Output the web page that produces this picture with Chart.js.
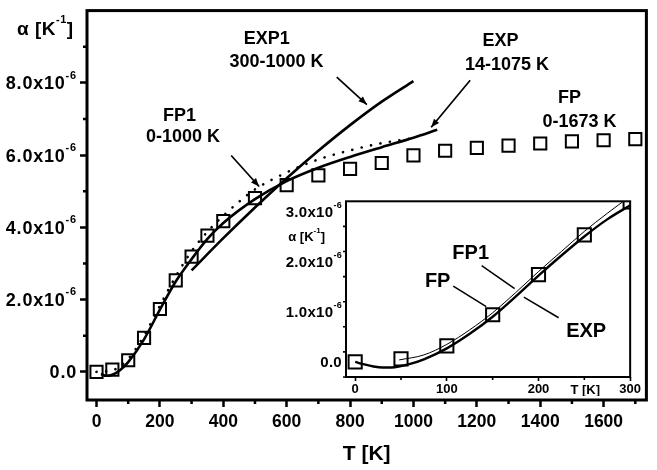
<!DOCTYPE html>
<html>
<head>
<meta charset="utf-8">
<script src="https://cdn.jsdelivr.net/npm/chart.js@4.4.1/dist/chart.umd.min.js"></script>
<style>
  html, body { margin: 0; padding: 0; background: #fff; }
  #wrap { position: relative; width: 657px; height: 470px; }
  #main { position: absolute; left: 0; top: 0; }
  #inset { position: absolute; left: 280px; top: 190px; }
</style>
</head>
<body>
<div id="wrap">
  <canvas id="main" width="657" height="470"></canvas>
  <canvas id="inset" width="362" height="206"></canvas>
</div>
<script>
// alpha values are in units of 1e-6 K^-1, temperatures in K

// FP 0-1673 K (squares)
const fpT     = [0, 50, 100, 150, 200, 250, 300, 350, 400, 500, 600, 700, 800, 900, 1000, 1100, 1200, 1300, 1400, 1500, 1600, 1700];
const fpAlpha = [0.0, 0.06, 0.32, 0.94, 1.74, 2.53, 3.19, 3.77, 4.17, 4.81, 5.17, 5.44, 5.62, 5.78, 5.99, 6.12, 6.20, 6.26, 6.32, 6.38, 6.41, 6.44];

// FP1 0-1000 K (dotted)
const fp1T     = [0, 50, 100, 150, 200, 250, 300, 350, 400, 450, 500, 600, 700, 800, 900, 1000];
const fp1Alpha = [0.0, 0.04, 0.36, 1.0, 1.83, 2.64, 3.34, 3.88, 4.32, 4.71, 5.05, 5.52, 5.88, 6.13, 6.33, 6.47];

// EXP 14-1075 K
const expT     = [14, 30, 50, 75, 100, 150, 200, 250, 300, 350, 400, 500, 600, 700, 800, 900, 1000, 1075];
const expAlpha = [-0.06, -0.11, -0.08, 0.05, 0.27, 0.9, 1.72, 2.5, 3.12, 3.68, 4.12, 4.78, 5.28, 5.65, 5.95, 6.22, 6.48, 6.7];

// EXP1 300-1000 K
const exp1T     = [300, 400, 500, 600, 700, 800, 900, 1000];
const exp1Alpha = [2.81, 3.70, 4.55, 5.36, 6.12, 6.83, 7.48, 8.05];

// inset, 0-300 K
const insetExpT     = [0, 10, 20, 30, 40, 50, 60, 75, 100, 125, 150, 175, 200, 225, 250, 275, 300];
const insetExpAlpha = [0.0, -0.05, -0.09, -0.11, -0.11, -0.08, -0.04, 0.05, 0.27, 0.56, 0.9, 1.3, 1.72, 2.12, 2.5, 2.84, 3.12];
const insetFp1T     = [48, 75, 100, 125, 150, 175, 200, 225, 250, 275, 300];
const insetFp1Alpha = [0.04, 0.14, 0.35, 0.64, 0.98, 1.38, 1.8, 2.2, 2.6, 2.96, 3.3];

// labelled ticks
const xTicksMain  = [0, 200, 400, 600, 800, 1000, 1200, 1400, 1600];
const yTicksMain  = [0, 2, 4, 6, 8];
const xTicksInset = [0, 100, 200, 300];
const yTicksInset = [0, 1, 2, 3];

// text notes (placed in data units)
const mainNotes = [
  { text: 'EXP1', t: 537, a: 9.21 }, { text: '300-1000 K', t: 568, a: 8.57 },
  { text: 'EXP', t: 1275, a: 9.16 }, { text: '14-1075 K', t: 1295, a: 8.50 },
  { text: 'FP', t: 1492, a: 7.58 }, { text: '0-1673 K', t: 1524, a: 6.92 },
  { text: 'FP1', t: 262, a: 7.07 }, { text: '0-1000 K', t: 273, a: 6.49 }
];
const mainArrows = [
  { t1: 758, a1: 8.16, t2: 853, a2: 7.40 },
  { t1: 1179, a1: 8.07, t2: 1056, a2: 6.77 },
  { t1: 425, a1: 5.99, t2: 513, a2: 5.13 }
];
const insetNotes = [
  { text: 'FP1', t: 126, a: 2.16 }, { text: 'FP', t: 90, a: 1.6 }, { text: 'EXP', t: 252, a: 0.6 }
];
const insetArrows = [
  { t1: 138, a1: 1.92, t2: 174, a2: 1.46 },
  { t1: 107, a1: 1.51, t2: 143, a2: 1.10 },
  { t1: 222, a1: 0.88, t2: 184, a2: 1.29 }
];

const FONT = '"Liberation Sans", Arial, Helvetica, sans-serif';
Chart.defaults.font.family = FONT;
Chart.defaults.color = '#000';

const pts = (xs, ys) => xs.map((x, i) => ({ x, y: ys[i] }));
const bold = size => `bold ${size}px ${FONT}`;

// parts: even entries normal, odd entries superscript; y = visual middle of digits
function rich(ctx, x, y, parts, size, align, spacing) {
  const sup = Math.round(size * 0.6);
  ctx.save();
  ctx.letterSpacing = (spacing || 0) + 'px';
  const widths = parts.map((p, i) => { ctx.font = bold(i % 2 ? sup : size); return ctx.measureText(p).width; });
  const total = widths.reduce((s, w) => s + w, 0);
  let cx = align === 'right' ? x - total : align === 'center' ? x - total / 2 : x;
  ctx.textAlign = 'left';
  ctx.textBaseline = 'alphabetic';
  parts.forEach((p, i) => {
    ctx.font = bold(i % 2 ? sup : size);
    ctx.fillText(p, cx, i % 2 ? y - size * 0.24 : y + size * 0.36);
    cx += widths[i];
  });
  ctx.restore();
}

function arrow(ctx, x1, y1, x2, y2, head) {
  ctx.beginPath(); ctx.moveTo(x1, y1); ctx.lineTo(x2, y2); ctx.stroke();
  if (!head) return;
  const ang = Math.atan2(y2 - y1, x2 - x1);
  ctx.beginPath();
  ctx.moveTo(x2, y2);
  ctx.lineTo(x2 - head * Math.cos(ang - 0.38), y2 - head * Math.sin(ang - 0.38));
  ctx.lineTo(x2 - head * Math.cos(ang + 0.38), y2 - head * Math.sin(ang + 0.38));
  ctx.closePath(); ctx.fill();
}

function decor(o) {
  return {
    id: 'decor',
    beforeDraw(chart) {
      const { ctx, chartArea: a } = chart;
      ctx.save(); ctx.fillStyle = '#fff';
      ctx.fillRect(a.left, a.top, a.right - a.left, a.bottom - a.top);
      ctx.restore();
    },
    afterDraw(chart) {
      const { ctx, chartArea: a, scales: { x, y } } = chart;
      ctx.save();
      ctx.strokeStyle = '#000'; ctx.fillStyle = '#000';
      // frame
      ctx.lineWidth = o.frame;
      ctx.strokeRect(a.left, a.top, a.right - a.left, a.bottom - a.top);
      // minor ticks
      ctx.lineWidth = o.tickW;
      ctx.beginPath();
      x.ticks.forEach(t => {
        if (o.xMajor.includes(t.value)) return;
        const px = x.getPixelForValue(t.value);
        ctx.moveTo(px, a.bottom); ctx.lineTo(px, a.bottom + o.minor);
      });
      y.ticks.forEach(t => {
        if (o.yMajor.includes(t.value)) return;
        const py = y.getPixelForValue(t.value);
        if (py < a.top + 2) return;
        ctx.moveTo(a.left, py); ctx.lineTo(a.left - o.minor, py);
      });
      ctx.stroke();
      // y labels with superscript
      o.yMajor.forEach(v => {
        const parts = v === 0 ? ['0.0'] : [v.toFixed(1) + 'x10', '-6'];
        rich(ctx, a.left - o.yGap, y.getPixelForValue(v), parts, o.ySize, 'right', o.ySpacing);
      });
      o.extra(ctx, a, x, y);
      // notes
      ctx.textAlign = 'center'; ctx.textBaseline = 'middle';
      ctx.font = bold(o.noteSize);
      o.notes.forEach(n => ctx.fillText(n.text, x.getPixelForValue(n.t), y.getPixelForValue(n.a)));
      ctx.lineWidth = o.arrowW;
      o.arrows.forEach(r => arrow(ctx, x.getPixelForValue(r.t1), y.getPixelForValue(r.a1),
        x.getPixelForValue(r.t2), y.getPixelForValue(r.a2), o.head));
      ctx.restore();
    }
  };
}

function axes(xr, yr, xMajor, yMajor, w, h, tickLen, tickW, xSize, xPad, title) {
  const major = list => c => list.includes(c.tick.value) ? '#000' : 'rgba(0,0,0,0)';
  return {
    x: {
      type: 'linear', min: xr[0], max: xr[1],
      afterFit: s => { s.height = h; },
      border: { display: false },
      grid: { drawOnChartArea: false, drawTicks: true, tickLength: tickLen, tickWidth: tickW, tickColor: major(xMajor) },
      ticks: { stepSize: xr[2], includeBounds: false, autoSkip: false, maxRotation: 0, padding: xPad,
        font: { size: xSize, weight: 'bold' }, color: '#000',
        callback: v => xMajor.includes(v) ? String(v) : '' },
      title: title
    },
    y: {
      type: 'linear', min: yr[0], max: yr[1],
      afterFit: s => { s.width = w; },
      border: { display: false },
      grid: { drawOnChartArea: false, drawTicks: true, tickLength: tickLen, tickWidth: tickW, tickColor: major(yMajor) },
      ticks: { stepSize: yr[2], includeBounds: false, display: false }
    }
  };
}

const common = {
  responsive: false, animation: false, events: [],
  plugins: { legend: { display: false }, tooltip: { enabled: false } }
};

new Chart(document.getElementById('main'), {
  type: 'scatter',
  data: {
    datasets: [
      { data: pts(fp1T, fp1Alpha), showLine: true, borderColor: '#000', borderWidth: 2.6,
        borderDash: [0.1, 9.5], borderCapStyle: 'round', pointRadius: 0, cubicInterpolationMode: 'monotone' },
      { data: pts(expT, expAlpha), showLine: true, borderColor: '#000', borderWidth: 2.6,
        pointRadius: 0, cubicInterpolationMode: 'monotone' },
      { data: pts(exp1T, exp1Alpha), showLine: true, borderColor: '#000', borderWidth: 2.6,
        pointRadius: 0, cubicInterpolationMode: 'monotone' },
      { data: pts(fpT, fpAlpha), showLine: false, pointStyle: 'rect', pointRadius: 8.6,
        pointBorderWidth: 2, pointBorderColor: '#000', pointBackgroundColor: 'rgba(0,0,0,0)' }
    ]
  },
  options: Object.assign({}, common, {
    layout: { padding: { top: 5, right: 8, left: 0, bottom: 0 } },
    scales: axes([-30, 1735, 100], [-0.78, 10, 1], xTicksMain, yTicksMain, 87, 70, 7, 2.5, 17.5, 5,
      { display: true, text: 'T [K]', font: { size: 21, weight: 'bold' }, color: '#000', padding: { top: 0, bottom: 3 } })
  }),
  plugins: [decor({
    frame: 3, tickW: 2.5, minor: 4, yGap: 10, ySize: 18, ySpacing: 0.8, noteSize: 18, arrowW: 1.7, head: 9,
    xMajor: xTicksMain, yMajor: yTicksMain, notes: mainNotes, arrows: mainArrows,
    extra: (ctx) => rich(ctx, 17, 28, ['\u03b1 [K', '-1', ']'], 19, 'left', 0.5)
  })]
});

new Chart(document.getElementById('inset'), {
  type: 'scatter',
  data: {
    datasets: [
      { data: pts(insetFp1T, insetFp1Alpha), showLine: true, borderColor: '#000', borderWidth: 1,
        pointRadius: 0, cubicInterpolationMode: 'monotone' },
      { data: pts(insetExpT, insetExpAlpha), showLine: true, borderColor: '#000', borderWidth: 2.4,
        pointRadius: 0, cubicInterpolationMode: 'monotone' },
      { data: pts(fpT.filter(t => t <= 300), fpAlpha.filter((v, i) => fpT[i] <= 300)), showLine: false,
        pointStyle: 'rect', pointRadius: 9.3, pointBorderWidth: 2, pointBorderColor: '#000',
        pointBackgroundColor: 'rgba(0,0,0,0)' }
    ]
  },
  options: Object.assign({}, common, {
    layout: { padding: { top: 8, right: 5, left: 0, bottom: 0 } },
    scales: axes([-10, 300, 50], [-0.3, 3.2, 0.5], xTicksInset, yTicksInset, 66, 19, 4, 1.6, 13, 1, { display: false })
  }),
  plugins: [decor({
    frame: 2, tickW: 1.6, minor: 3, yGap: 4, ySize: 15, ySpacing: 0.3, noteSize: 20, arrowW: 1.5, head: 0,
    xMajor: xTicksInset, yMajor: yTicksInset, notes: insetNotes, arrows: insetArrows,
    extra: (ctx, a, x, y) => {
      rich(ctx, a.left - 21, y.getPixelForValue(2.5), ['\u03b1 [K', '-1', ']'], 13, 'right');
      ctx.font = bold(13); ctx.textAlign = 'center'; ctx.textBaseline = 'middle';
      ctx.fillText('T [K]', x.getPixelForValue(251), a.bottom + 13);
    }
  })]
});
</script>
</body>
</html>
